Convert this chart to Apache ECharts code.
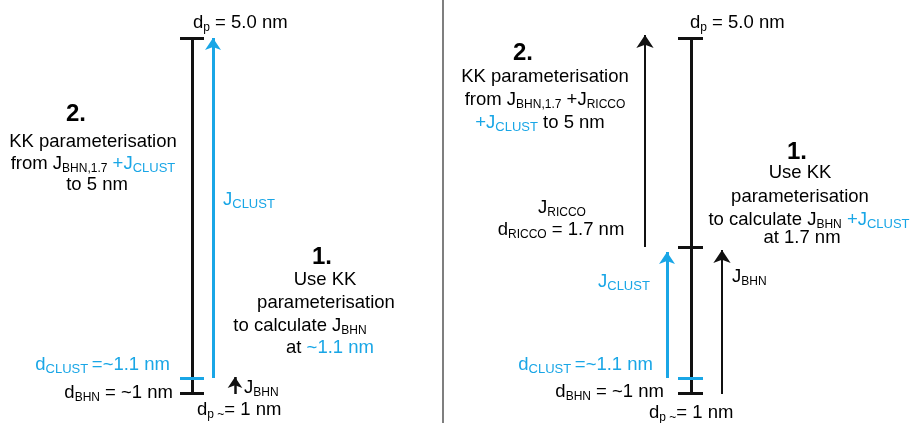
<!DOCTYPE html>
<html>
<head>
<meta charset="utf-8">
<script src="https://cdn.jsdelivr.net/npm/echarts@6/dist/echarts.min.js"></script>
<style>
html,body{margin:0;padding:0;background:#fff;}
#c{width:912px;height:423px;}
</style>
</head>
<body>
<div id="c"></div>
<script>
// Diagram units: x across (0..912), y down (0..423)
const BLACK = '#000000';
const BLUE = '#19a6e6';
const GREY = '#555555';

// Plain segments: [x1, y1, x2, y2, colorKey, width]
const segments = [
  [192, 38, 192, 393, 'k', 3],
  [180, 38, 204, 38, 'k', 3],
  [180, 393, 204, 393, 'k', 3],
  [180, 378, 204, 378, 'b', 3],
  [443, 0, 443, 423, 'g', 1.5],
  [691, 38, 691, 393, 'k', 3],
  [678, 38, 703, 38, 'k', 3],
  [678, 247, 703, 247, 'k', 3],
  [678, 393, 703, 393, 'k', 3],
  [678, 378, 703, 378, 'b', 3]
];
// Arrows: [x1, y1, x2, y2 (tip), colorKey, width, headSize]
const arrows = [
  [213, 378, 213, 38, 'b', 3, 12],
  [235, 394, 235, 377, 'k', 2.5, 11],
  [645, 247, 645, 35, 'k', 2, 13],
  [667, 378, 667, 252, 'b', 3, 12],
  [722, 394, 722, 250, 'k', 2, 13]
];
// Text labels: [x, y, text, align]
const texts = [
  [193, 23, 'd{sub|p} = 5.0 nm', 'left'],
  [76, 114, '{b|2.}', 'center'],
  [93, 142, 'KK parameterisation', 'center'],
  [93, 164, 'from J{sc|BHN,1.7} {bl|+J}{bs|CLUST}', 'center'],
  [97, 185, 'to 5 nm', 'center'],
  [223, 200, '{bl|J}{bs|CLUST}', 'left'],
  [322, 257, '{b|1.}', 'center'],
  [325, 280, 'Use KK', 'center'],
  [326, 303, 'parameterisation', 'center'],
  [300, 326, 'to calculate J{sc|BHN}', 'center'],
  [330, 348, 'at {bl|~1.1 nm}', 'center'],
  [170, 365, '{bl|d}{bs|CLUST }{bl|=~1.1 nm}', 'right'],
  [173, 393, 'd{sc|BHN} = ~1 nm', 'right'],
  [244, 388, 'J{sc|BHN}', 'left'],
  [197, 410, 'd{sub|p ~}= 1 nm', 'left'],
  [690, 23, 'd{sub|p} = 5.0 nm', 'left'],
  [523, 53, '{b|2.}', 'center'],
  [545, 77, 'KK parameterisation', 'center'],
  [545, 100, 'from J{sc|BHN,1.7} +J{sc|RICCO}', 'center'],
  [540, 123, '{bl|+J}{bs|CLUST} to 5 nm', 'center'],
  [562, 208, 'J{sc|RICCO}', 'center'],
  [561, 230, 'd{sc|RICCO} = 1.7 nm', 'center'],
  [797, 152, '{b|1.}', 'center'],
  [800, 173, 'Use KK', 'center'],
  [800, 197, 'parameterisation', 'center'],
  [809, 220, 'to calculate J{sc|BHN} {bl|+J}{bs|CLUST}', 'center'],
  [802, 238, 'at 1.7 nm', 'center'],
  [732, 277, 'J{sc|BHN}', 'left'],
  [598, 282, '{bl|J}{bs|CLUST}', 'left'],
  [653, 365, '{bl|d}{bs|CLUST }{bl|=~1.1 nm}', 'right'],
  [664, 392, 'd{sc|BHN} = ~1 nm', 'right'],
  [649, 413, 'd{sub|p ~}= 1 nm', 'left']
];

const colorOf = { k: '#111111', b: BLUE, g: GREY };
const FONT = '"Liberation Sans", Arial, Helvetica, sans-serif';

const rich = {
  sub: { fontSize: 12, lineHeight: 12, verticalAlign: 'bottom', color: BLACK, fontFamily: FONT },
  sc: { fontSize: 12, lineHeight: 20, verticalAlign: 'bottom', color: BLACK, fontFamily: FONT },
  bl: { fontSize: 18.5, lineHeight: 21, color: BLUE, fontFamily: FONT },
  bs: { fontSize: 13, lineHeight: 12, verticalAlign: 'bottom', color: BLUE, fontFamily: FONT },
  b: { fontSize: 24, lineHeight: 27, fontWeight: 'bold', color: BLACK, fontFamily: FONT }
};

const series = [];
segments.forEach(function (s) {
  series.push({
    type: 'lines', coordinateSystem: 'cartesian2d', silent: true, animation: false,
    symbol: ['none', 'none'],
    lineStyle: { color: colorOf[s[4]], width: s[5], opacity: 1, cap: 'butt' },
    data: [{ coords: [[s[0], s[1]], [s[2], s[3]]] }]
  });
});
arrows.forEach(function (a) {
  const h = a[6];
  series.push({
    type: 'lines', coordinateSystem: 'cartesian2d', silent: true, animation: false,
    symbol: ['none', 'arrow'], symbolSize: [h * 0.85, h],
    lineStyle: { color: colorOf[a[4]], width: a[5], opacity: 1 },
    data: [{ coords: [[a[0], a[1]], [a[2], a[3]]] }]
  });
});
series.push({
  type: 'scatter', silent: true, animation: false, symbolSize: 0,
  itemStyle: { opacity: 1 },
  label: { show: true, color: BLACK, opacity: 1 },
  data: texts.map(function (t) {
    return {
      value: [t[0], t[1]],
      label: {
        show: true, position: [0, 0], align: t[3], verticalAlign: 'middle',
        formatter: t[2], color: BLACK, fontSize: 18.5, lineHeight: 21,
        textBorderWidth: 0, fontFamily: FONT, rich: rich
      }
    };
  })
});

const chart = echarts.init(document.getElementById('c'), null, { renderer: 'canvas' });
chart.setOption({
  backgroundColor: '#ffffff',
  animation: false,
  textStyle: { color: BLACK, fontFamily: FONT },
  grid: { left: 0, right: 0, top: 0, bottom: 0 },
  xAxis: { type: 'value', min: 0, max: 912, show: false },
  yAxis: { type: 'value', min: 0, max: 423, inverse: true, show: false },
  series: series
});
</script>
</body>
</html>
